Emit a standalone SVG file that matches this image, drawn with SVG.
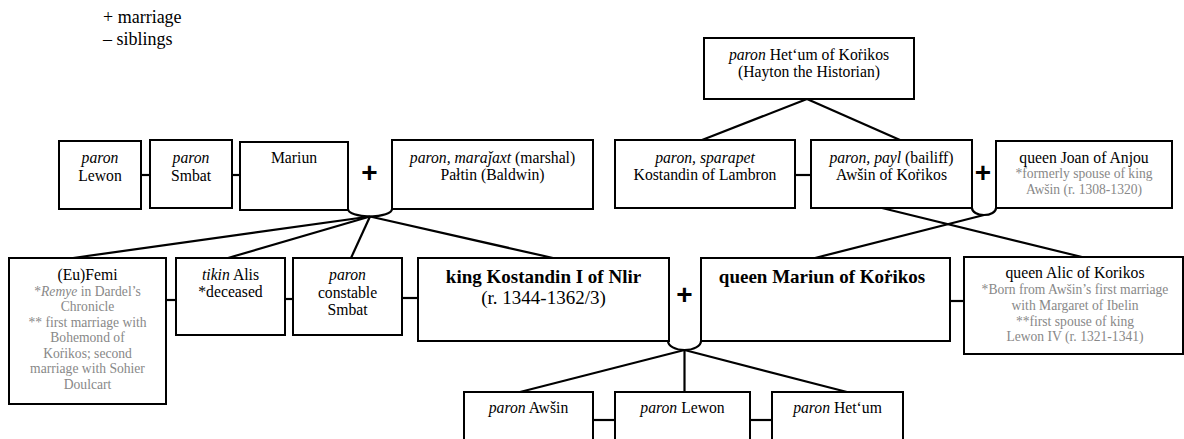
<svg xmlns="http://www.w3.org/2000/svg" width="1184" height="439" viewBox="0 0 1184 439">
<style>
.box{fill:#fff;stroke:#000;stroke-width:2}
.ln{fill:none;stroke:#000;stroke-width:2.2}
text{font-family:"Liberation Serif","Times New Roman",serif;font-size:15.7px;fill:#000;text-anchor:middle}
.g{fill:#888;font-size:13.6px}
.i{font-style:italic}
.b{font-weight:bold;font-size:19px}
.r19{font-size:19px}
.plus{font-family:"Liberation Sans",Arial,sans-serif;font-weight:bold;font-size:28px}
.leg{font-size:18px;text-anchor:start}
</style>
<rect width="1184" height="439" fill="#fff"/>
<g id="legend">
<text class="leg" x="103" y="23">+ marriage</text>
<text class="leg" x="103" y="45">– siblings</text>
</g>
<g id="connectors">
<line class="ln" x1="141" y1="175" x2="150" y2="175"/>
<line class="ln" x1="232" y1="175" x2="240" y2="175"/>
<line class="ln" x1="795" y1="175" x2="811" y2="175"/>
<line class="ln" x1="807" y1="99" x2="702" y2="140"/>
<line class="ln" x1="807" y1="99" x2="900" y2="140"/>
<path class="ln" d="M348,209 A22,7.5 0 0 0 392,209"/>
<line class="ln" x1="370" y1="216.5" x2="73" y2="258"/>
<line class="ln" x1="370" y1="216.5" x2="228" y2="258"/>
<line class="ln" x1="370" y1="216.5" x2="351" y2="258"/>
<line class="ln" x1="370" y1="216.5" x2="553" y2="258"/>
<path class="ln" d="M972,208 A12,7 0 0 0 996,208"/>
<line class="ln" x1="984" y1="215" x2="815" y2="258"/>
<line class="ln" x1="882" y1="208" x2="1082" y2="257"/>
<line class="ln" x1="166" y1="300" x2="176" y2="300"/>
<line class="ln" x1="285" y1="299" x2="293" y2="299"/>
<line class="ln" x1="402" y1="298" x2="418" y2="298"/>
<line class="ln" x1="950" y1="301" x2="964" y2="301"/>
<path class="ln" d="M668,341 A16.5,9 0 0 0 701,341"/>
<line class="ln" x1="684.5" y1="350" x2="520" y2="392"/>
<line class="ln" x1="684.5" y1="350" x2="684.5" y2="392"/>
<line class="ln" x1="684.5" y1="350" x2="847" y2="392"/>
<line class="ln" x1="593" y1="420" x2="615" y2="420"/>
<line class="ln" x1="750" y1="420" x2="772" y2="420"/>
</g>
<g id="marks">
<text class="plus" x="369.5" y="182">+</text>
<text class="plus" x="983" y="182">+</text>
<text class="plus" x="684.5" y="304">+</text>
</g>
<g id="hetum">
<rect class="box" x="704" y="38" width="210" height="61"/>
<text x="809" y="60"><tspan class="i">paron</tspan> Hetʻum of Koṙikos</text>
<text x="809" y="77">(Hayton the Historian)</text>
</g>
<g id="lewon">
<rect class="box" x="59" y="141" width="82" height="68"/>
<text class="i" x="100" y="163">paron</text>
<text x="100" y="181">Lewon</text>
</g>
<g id="smbat">
<rect class="box" x="150" y="140" width="82" height="68"/>
<text class="i" x="191" y="163">paron</text>
<text x="191" y="181">Smbat</text>
</g>
<g id="mariun">
<rect class="box" x="240" y="142" width="108" height="68"/>
<text x="294" y="163">Mariun</text>
</g>
<g id="paltin">
<rect class="box" x="392" y="140" width="201" height="69"/>
<text x="492.5" y="163"><tspan class="i">paron, maraǰaxt</tspan> (marshal)</text>
<text x="492.5" y="180">Pałtin (Baldwin)</text>
</g>
<g id="kostandin-lambron">
<rect class="box" x="615" y="140" width="180" height="68"/>
<text class="i" x="705" y="163">paron, sparapet</text>
<text x="705" y="180">Kostandin of Lambron</text>
</g>
<g id="awsin">
<rect class="box" x="811" y="140" width="161" height="68"/>
<text x="891.5" y="163"><tspan class="i">paron, payl</tspan> (bailiff)</text>
<text x="891.5" y="180">Awšin of Koṙikos</text>
</g>
<g id="joan">
<rect class="box" x="996" y="141" width="176" height="67"/>
<text x="1084" y="163">queen Joan of Anjou</text>
<text class="g" x="1084" y="178">*formerly spouse of king</text>
<text class="g" x="1084" y="194">Awšin (r. 1308-1320)</text>
</g>
<g id="femi">
<rect class="box" x="9" y="258" width="157" height="146"/>
<text x="87.5" y="280">(Eu)Femi</text>
<text class="g" x="87.5" y="295.5">*<tspan class="i">Remye</tspan> in Dardel’s</text>
<text class="g" x="87.5" y="311">Chronicle</text>
<text class="g" x="87.5" y="326.5">** first marriage with</text>
<text class="g" x="87.5" y="342">Bohemond of</text>
<text class="g" x="87.5" y="357.5">Koṙikos; second</text>
<text class="g" x="87.5" y="373">marriage with Sohier</text>
<text class="g" x="87.5" y="388.5">Doulcart</text>
</g>
<g id="alis">
<rect class="box" x="176" y="258" width="109" height="77"/>
<text x="230.5" y="280"><tspan class="i">tikin</tspan> Alis</text>
<text x="230.5" y="297">*deceased</text>
</g>
<g id="constable-smbat">
<rect class="box" x="293" y="258" width="109" height="77"/>
<text class="i" x="347.5" y="280">paron</text>
<text x="347.5" y="297.5">constable</text>
<text x="347.5" y="315">Smbat</text>
</g>
<g id="king">
<rect class="box" x="418" y="258" width="251" height="83"/>
<text class="b" x="543.5" y="283">king Kostandin I of Nlir</text>
<text class="r19" x="543.5" y="304">(r. 1344-1362/3)</text>
</g>
<g id="queen-mariun">
<rect class="box" x="701" y="258" width="249" height="83"/>
<text class="b" x="822" y="283">queen Mariun of Koṙikos</text>
</g>
<g id="alic">
<rect class="box" x="964" y="257" width="219" height="97"/>
<text x="1075" y="278">queen Alic of Korikos</text>
<text class="g" x="1075" y="294">*Born from Awšin’s first marriage</text>
<text class="g" x="1075" y="310">with Margaret of Ibelin</text>
<text class="g" x="1075" y="325.5">**first spouse of king</text>
<text class="g" x="1075" y="341">Lewon IV (r. 1321-1341)</text>
</g>
<g id="child-awsin">
<rect class="box" x="464" y="392" width="129" height="70"/>
<text x="528.5" y="413"><tspan class="i">paron</tspan> Awšin</text>
</g>
<g id="child-lewon">
<rect class="box" x="615" y="392" width="135" height="70"/>
<text x="682.5" y="413"><tspan class="i">paron</tspan> Lewon</text>
</g>
<g id="child-hetum">
<rect class="box" x="772" y="392" width="131" height="70"/>
<text x="837.5" y="413"><tspan class="i">paron</tspan> Hetʻum</text>
</g>
</svg>
